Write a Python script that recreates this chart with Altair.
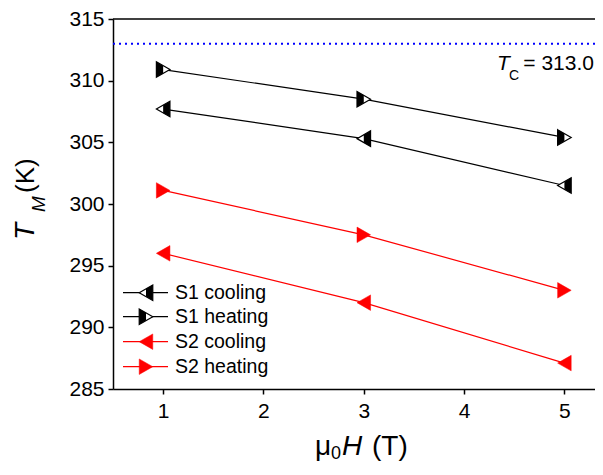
import altair as alt
import pandas as pd

# ---- data ----
fields = [1, 3, 5]
s1_cooling = [307.7, 305.3, 301.5]
s1_heating = [310.9, 308.5, 305.4]
s2_cooling = [296.0, 292.0, 287.1]
s2_heating = [301.1, 297.5, 293.0]
tc_value = 313.0
series_names = ["S1 cooling", "S1 heating", "S2 cooling", "S2 heating"]
x_ticks = [1, 2, 3, 4, 5]
y_ticks = [285, 290, 295, 300, 305, 310, 315]
x_domain = [0.5, 5.305]
y_domain = [285, 315]

FONT = "Liberation Sans"
W, H = 482, 370
MS = 240

RIGHT_TRI = "M-0.875,-1 L0.875,0 L-0.875,1 Z"
LEFT_TRI = "M0.875,-1 L-0.875,0 L0.875,1 Z"
RIGHT_HALF = "M-0.875,-1 L0,-0.5 L0,0.5 L-0.875,1 Z"
LEFT_HALF = "M0.875,-1 L0,-0.5 L0,0.5 L0.875,1 Z"

xaxis = alt.Axis(values=x_ticks, title=None, grid=False, tickSize=5, tickWidth=1.5,
                 domainWidth=1.5, domainColor="black", tickColor="black",
                 labelColor="black", labelFont=FONT, labelFontSize=21, labelPadding=6,
                 format="d")
yaxis = alt.Axis(values=y_ticks, title=None, grid=False, tickSize=5, tickWidth=1.5,
                 domainWidth=1.5, domainColor="black", tickColor="black",
                 labelColor="black", labelFont=FONT, labelFontSize=21, labelPadding=4,
                 format="d")
X = alt.X("field:Q", scale=alt.Scale(domain=x_domain, nice=False, zero=False), axis=xaxis)
Y = alt.Y("T:Q", scale=alt.Scale(domain=y_domain, nice=False, zero=False), axis=yaxis)

one = pd.DataFrame({"k": [0]})


def txt(text, px, py, size, italic=False, angle=0, align="left", baseline="alphabetic"):
    props = dict(text=text, fontSize=size, font=FONT, color="black", align=align,
                 baseline=baseline)
    if italic:
        props["fontStyle"] = "italic"
    if angle:
        props["angle"] = angle
    return alt.Chart(one).mark_text(**props).encode(x=alt.value(px), y=alt.value(py))


def marker(chart, color, shape, half):
    if half is None:
        return [chart.mark_point(shape=shape, filled=True, fill=color, stroke=color,
                                 strokeWidth=0.5, size=MS, opacity=1)]
    return [
        chart.mark_point(shape=shape, fill="white", stroke=color, strokeWidth=1.2,
                         size=MS, opacity=1, fillOpacity=1),
        chart.mark_point(shape=half, filled=True, fill=color, strokeWidth=0,
                         size=MS, opacity=1),
    ]


styles = {
    "S1 cooling": ("black", LEFT_TRI, LEFT_HALF),
    "S1 heating": ("black", RIGHT_TRI, RIGHT_HALF),
    "S2 cooling": ("#FF0000", LEFT_TRI, None),
    "S2 heating": ("#FF0000", RIGHT_TRI, None),
}
values = dict(zip(series_names, [s1_cooling, s1_heating, s2_cooling, s2_heating]))

layers = []
# top frame
layers.append(alt.Chart(pd.DataFrame({"T": [y_domain[1]]}))
              .mark_rule(color="black", strokeWidth=1.5).encode(y=Y))
# Tc line
layers.append(alt.Chart(pd.DataFrame({"T": [tc_value]}))
              .mark_rule(color="#0000FF", strokeWidth=2, strokeDash=[2, 4]).encode(y=Y))

for name in series_names:
    color, shape, half = styles[name]
    df = pd.DataFrame({"field": fields, "T": values[name]})
    base = alt.Chart(df).encode(x=X, y=Y)
    layers.append(base.mark_line(color=color, strokeWidth=1.2))
    layers.extend(marker(base, color, shape, half))

# legend
legend_rows = [273.7, 297.7, 322.7, 347.7]
for name, ry in zip(series_names, legend_rows):
    color, shape, half = styles[name]
    layers.append(alt.Chart(one).mark_rule(color=color, strokeWidth=1.2)
                  .encode(x=alt.value(10), x2=alt.value(55), y=alt.value(ry)))
    mk = alt.Chart(one).encode(x=alt.value(33), y=alt.value(ry))
    layers.extend(marker(mk, color, shape, half))
    layers.append(txt(name, 62, ry, 19.5, baseline="middle"))

# Tc label
layers.append(txt("T", 384, 51, 21, italic=True))
layers.append(txt("C", 396, 61, 14))
layers.append(txt("= 313.0", 481, 51, 21, align="right"))

# axis titles
layers.append(txt("T", -79, 221, 28, italic=True, angle=270))
layers.append(txt("M", -68, 193, 19, italic=True, angle=270))
layers.append(txt("(K)", -79, 174, 26, angle=270))

layers.append(txt("\u03bc", 202, 436, 28))
layers.append(txt("0", 218, 440, 18))
layers.append(txt("H", 229, 436, 28, italic=True))
layers.append(txt("(T)", 259, 436, 28))

chart = alt.layer(*layers).properties(
    width=W, height=H,
    autosize=alt.AutoSizeParams(type="none"),
    padding={"left": 105, "top": 11, "right": 0, "bottom": 74},
).configure_view(stroke=None)

chart.save("out.html", embed_options={"renderer": "svg", "actions": False})
